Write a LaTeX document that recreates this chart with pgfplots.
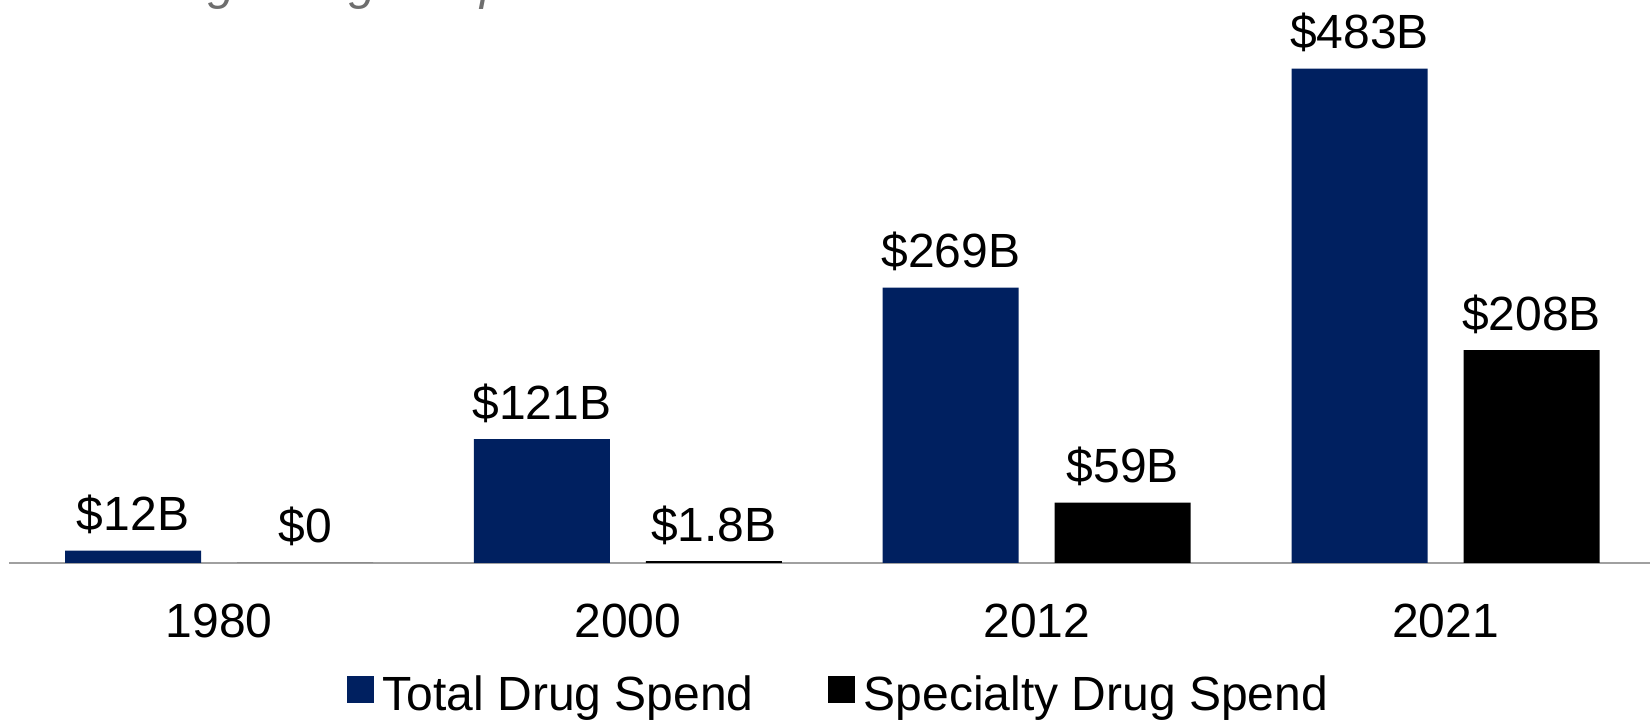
\documentclass[border=0pt]{standalone}
\usepackage{fontspec}
\setmainfont{Liberation Sans}
\usepackage{pgfplots}
\pgfplotsset{compat=1.18}
\definecolor{navy}{HTML}{002060}
\definecolor{axgray}{HTML}{A0A0A0}
\definecolor{titlegray}{HTML}{6E6E6E}
\begin{document}
\begin{tikzpicture}
\begin{axis}[
  scale only axis,
  width=820.5pt, height=281.5pt,
  xmin=-0.5137, xmax=3.5, ymin=0, ymax=550,
  axis y line=none,
  axis x line*=bottom,
  x axis line style={-, draw=axgray, line width=1pt},
  xtick={0,1,2,3},
  xticklabels={1980,2000,2012,2021},
  major tick length=0pt,
  font=\fontsize{24}{28}\selectfont,
  xticklabel style={anchor=base, yshift=-37.5pt, font=\fontsize{24}{28}\selectfont},
  ybar, bar width=68pt,
  point meta=explicit symbolic,
  nodes near coords,
  every node near coord/.append style={anchor=base, yshift=10pt, font=\fontsize{24}{28}\selectfont, text=black},
  legend style={draw=none, fill=none, at={(axis description cs:0.506,-0.2345)}, anchor=center,
    legend columns=2, font=\fontsize{24}{28}\selectfont,
    /tikz/every even column/.append style={column sep=35pt}},
  legend image code/.code={\fill[#1] (0pt,-4pt) rectangle (13.5pt,9.5pt); \path (16pt,0pt);},
  clip=false,
]
\addplot[fill=navy, draw=none, bar shift=-43pt] coordinates {(0,12) [\$12B] (1,121) [\$121B] (2,269) [\$269B] (3,483) [\$483B]};
\addlegendentry{Total Drug Spend}
\addplot[fill=black, draw=none, bar shift=43pt] coordinates {(0,0) [\$0] (1,1.8) [\$1.8B] (2,59) [\$59B] (3,208) [\$208B]};
\addlegendentry{Specialty Drug Spend}
\coordinate (bl) at (rel axis cs:0,0);
\coordinate (tr) at (rel axis cs:1,1);
\coordinate (tl) at (rel axis cs:0,1);
\end{axis}
\node[anchor=base west, inner sep=0pt, text=titlegray, font=\fontsize{24}{28}\selectfont\itshape] at ([xshift=14pt, yshift=0pt]tl) {Fastest growing component of healthcare costs};
\pgfresetboundingbox
\path ([xshift=-4.5pt, yshift=-79.5pt]bl) rectangle (tr);
\end{tikzpicture}
\end{document}
